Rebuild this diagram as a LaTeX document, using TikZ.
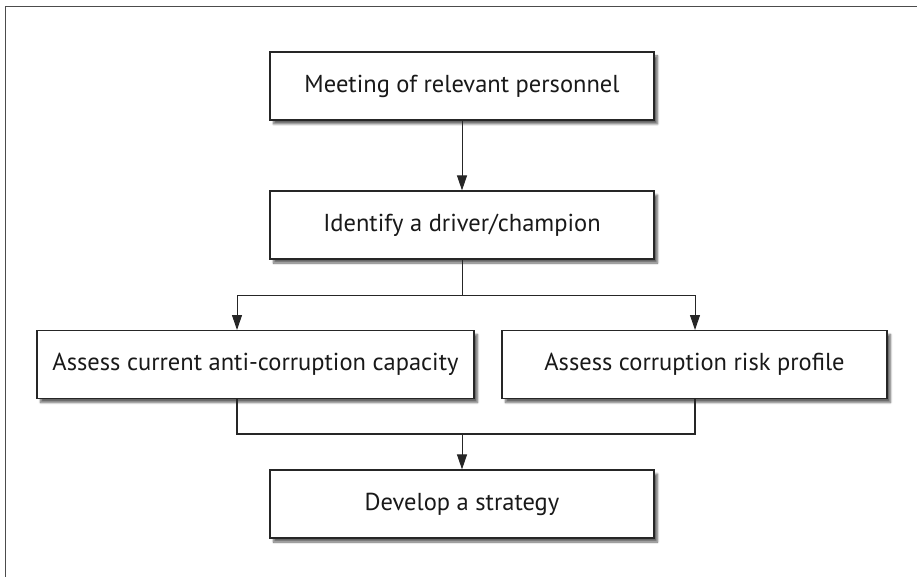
\documentclass[tikz,border=0pt]{standalone}
\usepackage{fontspec}
\setmainfont{PT Sans}
\usetikzlibrary{arrows.meta,shadows.blur,positioning}
\begin{document}
\begin{tikzpicture}[x=1pt,y=-1pt,
  stepbox/.style={draw=black!85,line width=1.2pt,fill=white,minimum height=68pt,inner sep=0pt,
     font=\fontsize{24.5}{28}\selectfont,text=black!90,
     blur shadow={shadow xshift=3.5pt,shadow yshift=-4pt,shadow blur steps=6,shadow opacity=60}},
  arr/.style={draw=black!85,line width=1pt,-{Triangle[width=10pt,length=15pt]}},
  thickline/.style={draw=black!85,line width=2pt}]
\useasboundingbox (0,0) rectangle (917,577);
\draw[black!70,line width=1pt] (5,577) -- (5,7) -- (917,7);
\node[stepbox,minimum width=384pt] (b1) at (462,86) {Meeting of relevant personnel};
\node[stepbox,minimum width=384pt] (b2) at (462,225) {Identify a driver/champion};
\node[stepbox,minimum width=437pt] (b3) at (255.5,364.5) {Assess current anti-corruption capacity};
\node[stepbox,minimum width=385pt] (b4) at (694.5,364.5) {Assess corruption risk profile};
\node[stepbox,minimum width=384pt] (b5) at (462,504) {Develop a strategy};
\coordinate (split) at (462,295);
\coordinate (la) at (237,330);
\coordinate (ra) at (695,330);
\coordinate (merge) at (462,434);
\draw[arr] (b1.south) -- (b2.north);
\draw[arr] (b2.south) -- (split) -| (la);
\draw[arr] (split) -| (ra);
\draw[thickline] (b3.south -| la) |- (merge) -| (b4.south -| ra);
\draw[arr] (merge) -- (b5.north);
\end{tikzpicture}
\end{document}
